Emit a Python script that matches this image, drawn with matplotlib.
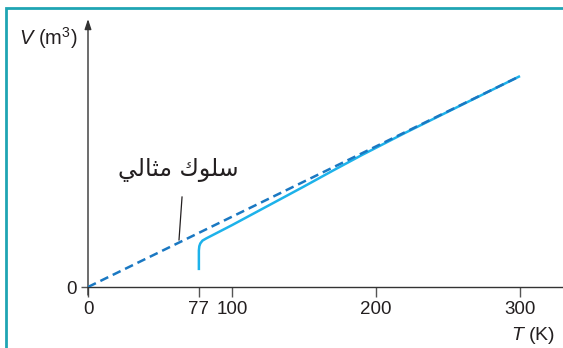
import matplotlib.pyplot as plt
from matplotlib.patches import Rectangle

plt.rcParams['font.family'] = ['Liberation Sans', 'DejaVu Sans']
plt.rcParams['mathtext.fontset'] = 'custom'
plt.rcParams['mathtext.rm'] = 'Liberation Sans'
plt.rcParams['mathtext.it'] = 'Liberation Sans:italic'

# ideal gas line (V proportional to T) and real gas curve
ideal_T = [0, 300]
ideal_V = [0, 300]
real_T = [77, 77, 77.3, 78, 79.5, 82, 100, 130, 150, 170, 190, 220, 260, 300]
real_V = [24, 52, 58, 62, 66, 69, 88, 121, 143, 165.5, 187.5, 219, 259.5, 300]
xticks = [0, 77, 100, 200, 300]
xtick_labels = ['0', '77', '100', '200', '300']
# "سلوك مثالي" written with presentation forms in visual order (matplotlib does no shaping)
label_ideal = '\uFEF2\uFEDF\uFE8E\uFE9C\uFEE3 \uFED9\uFEEE\uFEE0\uFEB3'

W, H = 563, 348
fig = plt.figure(figsize=(W / 100, H / 100), dpi=100)

# teal frame (only top and left visible)
fig.add_artist(Rectangle((6 / W, -0.1), 1.2, (H - 8) / H + 0.1, transform=fig.transFigure,
                         fill=False, edgecolor='#1fa5b3', linewidth=2))

x0, y0 = 88, 287
ax = fig.add_axes([x0 / W, (H - y0) / H, (W - x0) / W, (y0 - 19) / H])
ax.set_xlim(0, (W - x0) / 1.44)
ax.set_ylim(0, (y0 - 19) / 0.703)
ax.patch.set_alpha(0)

for s in ['top', 'right', 'left']:
    ax.spines[s].set_visible(False)
ax.spines['bottom'].set_color('#333333')
ax.spines['bottom'].set_linewidth(1)
ax.annotate('', xy=(0, 1.0), xytext=(0, -0.03), xycoords='axes fraction',
            arrowprops=dict(arrowstyle='-|>,head_length=0.6,head_width=0.2',
                            color='#333333', lw=1, shrinkA=0, shrinkB=0))

ax.set_xticks(xticks)
ax.set_xticklabels(xtick_labels)
ax.set_yticks([0])
ax.set_yticklabels(['0'])
ax.tick_params(axis='x', length=7, width=1, color='#555555', pad=3,
               labelsize=13.5, labelcolor='#231f20')
ax.tick_params(axis='y', length=5, width=1, color='#555555', pad=3,
               labelsize=13.5, labelcolor='#231f20')

ax.plot(ideal_T, ideal_V, color='#1a78c2', lw=1.8, dashes=(3.5, 2), zorder=3)
ax.plot(real_T, real_V, color='#1db2ea', lw=1.8, zorder=2, solid_capstyle='butt')

ax.plot([65.3, 63.2], [128, 67], color='#231f20', lw=0.9)
ax.text(63, 166, label_ideal, family='DejaVu Sans', fontsize=17,
        ha='center', va='center', color='#231f20')

fig.text(48 / W, 1 - 38 / H, r'$\it{V}$ (m$^3$)', fontsize=14.5, ha='center', va='center',
         color='#231f20')
fig.text(533 / W, 1 - 336 / H, r'$\it{T}$ (K)', fontsize=14, ha='center', va='center',
         color='#231f20')

fig.savefig('out.png', dpi=100)
